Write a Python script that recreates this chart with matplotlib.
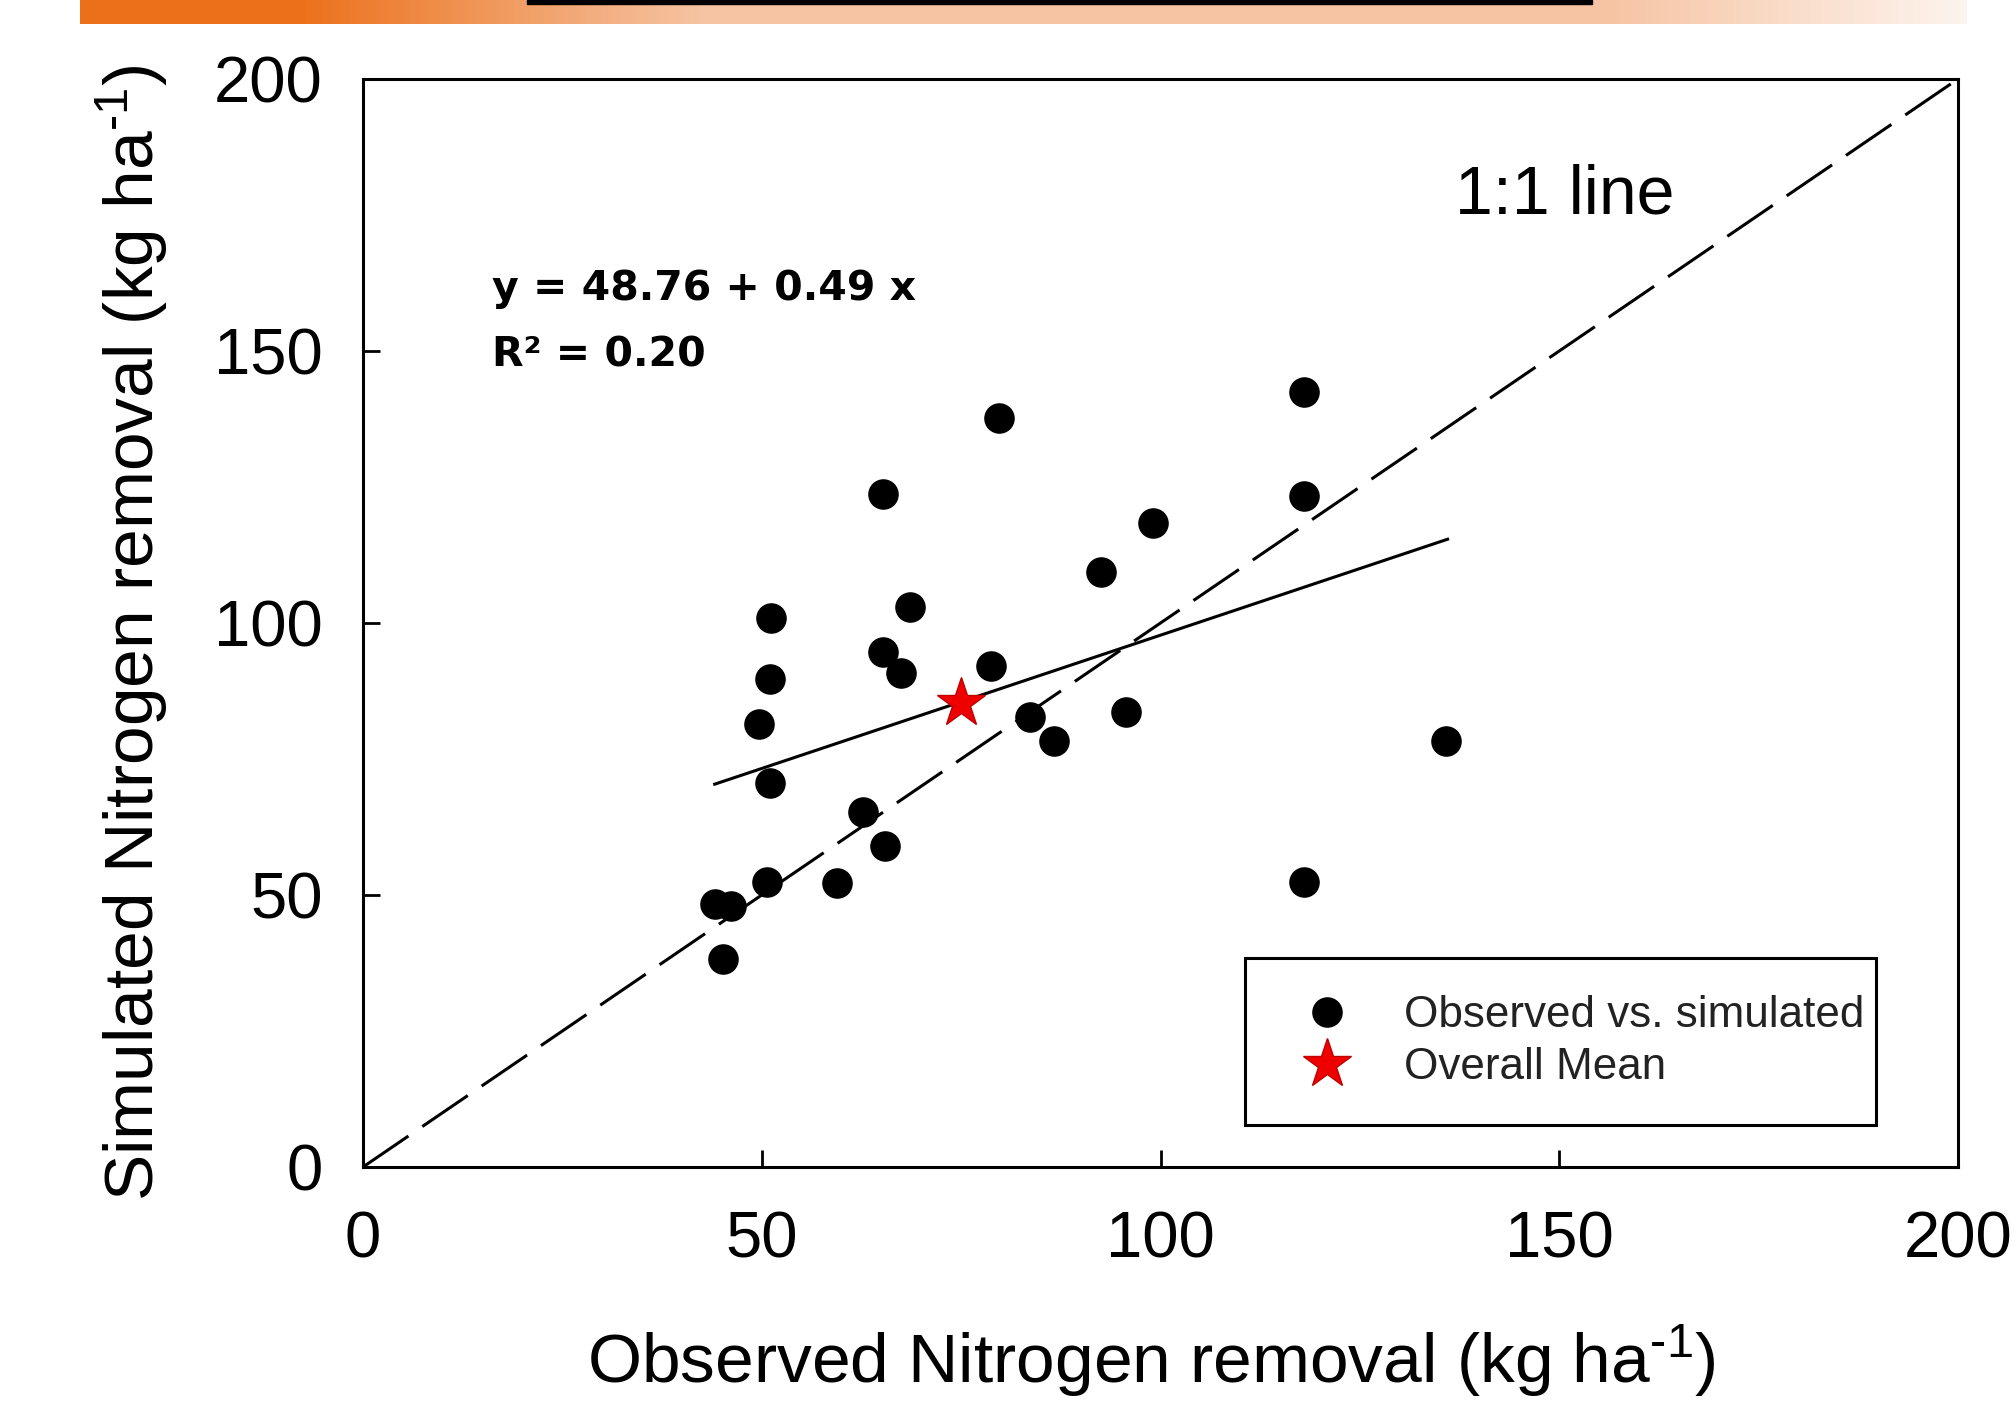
"""Observed vs simulated nitrogen removal, with 1:1 line and linear fit."""
import numpy as np
import matplotlib

matplotlib.use("Agg")
import matplotlib.pyplot as plt
from matplotlib.patches import Rectangle

# --- data ---------------------------------------------------------------
observed = [45.2, 44.1, 46.1, 50.6, 49.6, 51.0, 51.2, 51.0, 59.4, 62.7, 65.4, 65.2, 65.2,
            67.5, 68.6, 79.8, 78.8, 83.6, 86.7, 92.6, 95.7, 99.1, 118.0, 118.0, 118.0, 135.8]
simulated = [38.2, 48.4, 47.9, 52.4, 81.4, 89.7, 101.0, 70.6, 52.2, 65.2, 59.0, 123.8, 94.7,
             90.9, 103.0, 137.7, 92.1, 82.8, 78.4, 109.4, 83.6, 118.3, 142.4, 123.3, 52.4, 78.4]
mean_obs, mean_sim = 75.0, 85.3
fit_intercept, fit_slope = 48.76, 0.49
fit_range = [44.1, 136.0]
one_to_one = [0, 200]
ticks = [0, 50, 100, 150, 200]

FONT = "Liberation Sans"
plt.rcParams["font.family"] = FONT
plt.rcParams["mathtext.fontset"] = "custom"
plt.rcParams["mathtext.rm"] = FONT
plt.rcParams["mathtext.it"] = FONT + ":italic"
plt.rcParams["mathtext.bf"] = FONT + ":bold"

W, H = 2016, 1404
fig = plt.figure(figsize=(W / 100, H / 100), dpi=100)
fig.patch.set_facecolor("white")

# slide banner (orange gradient strip) along the top
stops_x = [0.0, 0.115, 0.33, 0.81, 1.0]
stops_rgb = np.array([(236, 112, 26), (236, 112, 26), (246, 196, 163),
                      (246, 196, 163), (253, 244, 238)]) / 255.0
xs = np.linspace(0, 1, 600)
grad = np.stack([np.interp(xs, stops_x, stops_rgb[:, i]) for i in range(3)], axis=-1)
bax = fig.add_axes([80 / W, 1 - 24 / H, 1887 / W, 24 / H])
bax.imshow(grad[None, :, :], aspect="auto", extent=(0, 1, 0, 1))
bax.set_axis_off()
fig.patches.append(Rectangle((527 / W, 1 - 4 / H), 1065 / W, 4 / H,
                             transform=fig.transFigure, color="black", zorder=5))

ax = fig.add_axes([363 / W, 1 - 1167 / H, 1595 / W, 1088 / H])

x_fit = np.array(fit_range)
ax.plot(one_to_one, one_to_one, color="black", lw=2.2, dashes=(18, 5.5), zorder=2)
ax.plot(x_fit, fit_intercept + fit_slope * x_fit, color="black", lw=2.2, zorder=2)
ax.plot(observed, simulated, "o", color="black", ms=21, zorder=3,
        label="Observed vs. simulated")
ax.plot([mean_obs], [mean_sim], "*", mfc="#ee0000", mec="#c00000", mew=1, ms=37,
        zorder=4, label="Overall Mean")

ax.set_xlim(0, 200)
ax.set_ylim(0, 200)
ax.set_xticks(ticks)
ax.set_yticks(ticks)
ax.tick_params(direction="in", length=12, width=2, labelsize=47, top=False, right=False)
ax.tick_params(axis="x", pad=31)
ax.tick_params(axis="y", pad=29)
for sp in ax.spines.values():
    sp.set_linewidth(2.2)

ax.set_xlabel("Observed Nitrogen removal (kg ha$^{\\text{-1}}$)", fontsize=50)
ax.set_ylabel("Simulated Nitrogen removal (kg ha$^{\\text{-1}}$)", fontsize=50)
ax.xaxis.set_label_coords(0.494, -0.143)
ax.yaxis.set_label_coords(-0.121, 0.491)

ax.text(136.9, 178.5, "1:1 line", fontsize=49, va="center", ha="left")
ax.text(16.2, 159.3, "y = 48.76 + 0.49 x", fontsize=29.5, fontweight="bold",
        family="DejaVu Sans", va="baseline")
ax.text(16.2, 147.1, "R\u00b2 = 0.20", fontsize=29.5, fontweight="bold",
        family="DejaVu Sans", va="baseline")

# legend: frame drawn separately so its size matches the original box
ax.add_patch(Rectangle((0.553, 0.0386), 0.3956, 0.1535, transform=ax.transAxes,
                       fill=True, facecolor="white", edgecolor="black", lw=2.2, zorder=5))
leg = ax.legend(loc="upper left", bbox_to_anchor=(0.5765, 0.158), borderaxespad=0,
                borderpad=0, fontsize=31.7, numpoints=1, frameon=False,
                handlelength=2.0, handletextpad=0.75, labelspacing=0.25)
leg.set_zorder(6)
for t in leg.get_texts():
    t.set_color("#222222")

fig.savefig("out.png", dpi=100)
